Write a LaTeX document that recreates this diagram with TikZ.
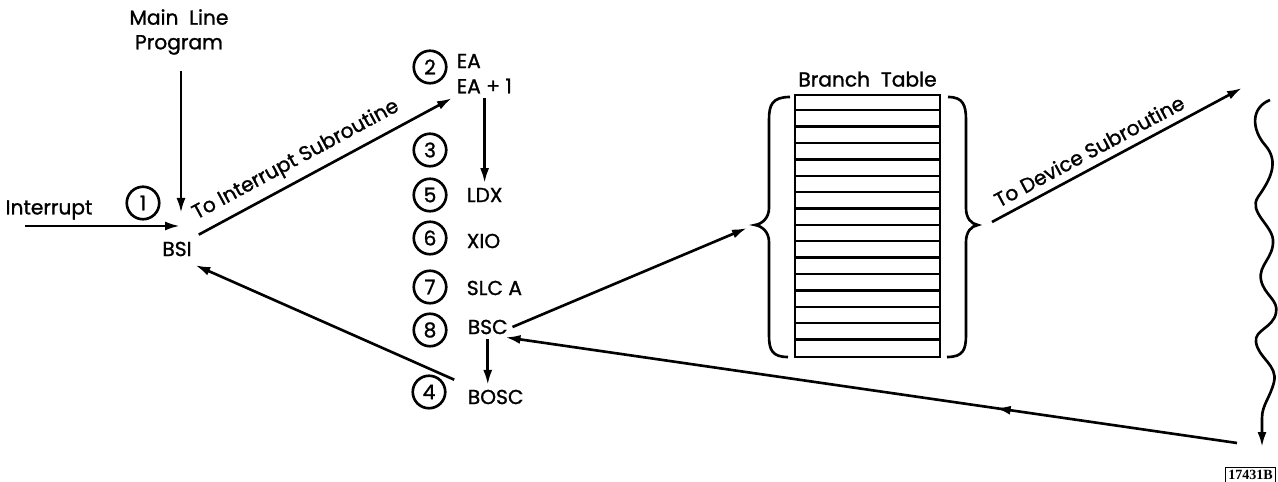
\documentclass[tikz,border=0pt]{standalone}
\usepackage{fontspec}
\setmainfont{Poppins}[FakeBold=1.2]
\newfontfamily\figfont{Liberation Serif}
\usetikzlibrary{positioning,arrows.meta,decorations.markings}

\begin{document}
\begin{tikzpicture}[x=0.02cm, y=-0.02cm, line width=1.5pt,
  every node/.style={font=\fontsize{11.5}{14}\selectfont},
  arr/.style={-{Latex[length=3mm, width=1.8mm]}},
  num/.style={draw, circle, line width=1.5pt, minimum size=6.5mm, inner sep=0pt},
  op/.style={anchor=west, inner sep=2pt}]
\useasboundingbox (0,0) rectangle (1278,482);

% entry into the interrupt
\node[align=center] (main) at (179,32) {Main~~Line\\Program};
\node (intr) at (49,210) {Interrupt};
\node (bsi) at (177,249) {BSI};
\node[num] (c1) at (143,203) {1};
\coordinate (intrin) at (25,226);
\coordinate (bsiin) at (180,226);
\coordinate (mainin) at (181,213);
\draw[arr] (intrin) -- (bsiin);
\draw[arr, shorten <=5pt] (main.south -| mainin) -- (mainin);

% interrupt subroutine
\node[num] (c2) at (430,67) {2};
\node[op] (ea) at (452,61) {EA};
\node[op] (ea1) at (452,86) {EA + 1};
\node[num] (c3) at (430,150) {3};
\node[num] (c5) at (430,195) {5};
\node[op] (ldx) at (462,195) {LDX};
\node[num] (c6) at (430,238) {6};
\node[op] (xio) at (462,241) {XIO};
\node[num] (c7) at (430,287) {7};
\node[op] (slc) at (462,288) {SLC A};
\node[num] (c8) at (430,330) {8};
\node[op] (bsc) at (463,327) {BSC};
\node[num] (c4) at (429,392) {4};
\node[op] (bosc) at (463,397) {BOSC};

\draw[arr] (bsi.north east) -- node[pos=0.42, above=1pt, sloped] {To Interrupt Subroutine} (ea1.south west);
\draw[arr] (ea1.south -| ldx.north) -- (ldx.north);
\draw[arr] (bsc.south) -- (bsc.south |- bosc.north);
\draw[arr] ([xshift=-5pt, yshift=3pt]bosc.north west) -- ([xshift=-2pt, yshift=-1pt]bsi.south east);

% branch table
\node[draw, line width=1.3pt, minimum width=2.9cm, minimum height=5.24cm, inner sep=0pt] (table) at (867.5,226) {};
\foreach \i in {1,...,15}
  \draw[line width=1.3pt] (table.north west) ++(0,\i*16.375) -- ++(145,0);
\node[above=0pt of table] (btitle) {Branch~~Table};
\draw (790,97) .. controls (772,97) and (769,105) .. (769,120) -- (769,208)
  .. controls (769,218) and (762,224) .. (755,225)
  .. controls (762,226) and (769,232) .. (769,242) -- (769,335)
  .. controls (769,350) and (772,357) .. (788,357);
\draw (948,97) .. controls (963,97) and (966,105) .. (966,120) -- (966,208)
  .. controls (966,218) and (971,224) .. (978,225)
  .. controls (971,226) and (966,232) .. (966,242) -- (966,335)
  .. controls (966,350) and (963,357) .. (947,357);
\coordinate (lbrace) at (747,228);
\coordinate (rbrace) at (992,222);
\draw[arr] (bsc.east) -- (lbrace);

% device subroutine and return
\coordinate (devsub) at (1242,88);
\coordinate (wavetop) at (1270,100);
\coordinate (wavebot) at (1262,447);
\coordinate (retstart) at (1237,443);
\draw[arr] (rbrace) -- node[pos=0.42, above=1pt, sloped] {To Device Subroutine} (devsub);
\draw[arr] (wavetop) .. controls (1250,108) and (1252,130) .. (1265,145)
  .. controls (1280,162) and (1270,180) .. (1258,197)
  .. controls (1248,212) and (1272,225) .. (1273,240)
  .. controls (1274,258) and (1258,265) .. (1261,280)
  .. controls (1264,295) and (1279,300) .. (1276,313)
  .. controls (1273,328) and (1254,330) .. (1256,342)
  .. controls (1258,358) and (1278,365) .. (1274,382)
  .. controls (1270,398) and (1262,405) .. (1262,418) -- (wavebot);
\draw[arr, postaction={decorate}, decoration={markings,
  mark=at position 0.33 with {\arrow{Latex[length=3mm, width=1.8mm]}}}]
  (retstart) -- ([xshift=-4pt, yshift=1pt]bsc.south east);

\node[draw, line width=0.8pt, anchor=north west, inner sep=1.5pt,
  font=\figfont\bfseries\fontsize{8}{9}\selectfont] (fig) at (1225,467) {17431B};
\end{tikzpicture}
\end{document}
